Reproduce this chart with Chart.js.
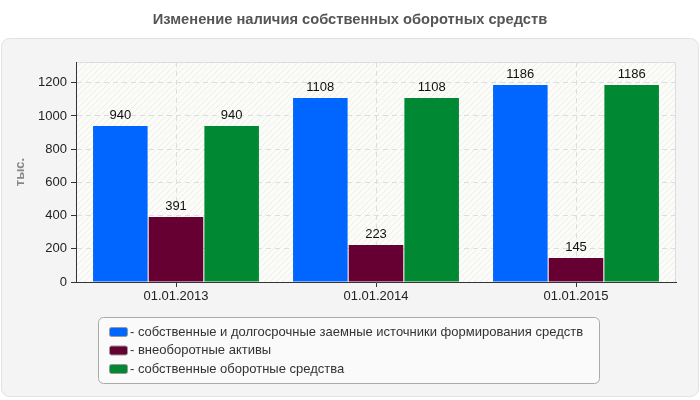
<!DOCTYPE html>
<html><head><meta charset="utf-8">
<script src="https://cdn.jsdelivr.net/npm/chart.js@4/dist/chart.umd.min.js"></script>
<style>html,body{margin:0;padding:0;background:#fff}#wrap{width:700px;height:400px}</style>
</head><body><div id="wrap"><canvas id="c" width="700" height="400"></canvas></div>
<script>
const chartTitle = "Изменение наличия собственных оборотных средств";
const yTitle = "тыс.";
const categories = ["01.01.2013", "01.01.2014", "01.01.2015"];
const seriesNames = [
  "собственные и долгосрочные заемные источники формирования средств",
  "внеоборотные активы",
  "собственные оборотные средства"
];
const sourcesValues = [940, 1108, 1186];
const fixedAssetsValues = [391, 223, 145];
const workingCapitalValues = [940, 1108, 1186];
const yTicks = [0, 200, 400, 600, 800, 1000, 1200];
const colors = ["#0066ff", "#660033", "#008833"];

const FONT = "'Liberation Sans', Arial, sans-serif";

function makePattern(ctx) {
  const p = document.createElement('canvas');
  p.width = 6; p.height = 6;
  const g = p.getContext('2d');
  g.fillStyle = '#fbfbf8';
  g.fillRect(0, 0, 6, 6);
  g.strokeStyle = '#ededeb';
  g.lineWidth = 1;
  g.beginPath();
  g.moveTo(0, 6); g.lineTo(6, 0);
  g.moveTo(-3, 3); g.lineTo(3, -3);
  g.moveTo(3, 9); g.lineTo(9, 3);
  g.stroke();
  return ctx.createPattern(p, 'repeat');
}

function roundRect(ctx, x, y, w, h, r) {
  ctx.beginPath();
  ctx.moveTo(x + r, y);
  ctx.lineTo(x + w - r, y);
  ctx.arcTo(x + w, y, x + w, y + r, r);
  ctx.lineTo(x + w, y + h - r);
  ctx.arcTo(x + w, y + h, x + w - r, y + h, r);
  ctx.lineTo(x + r, y + h);
  ctx.arcTo(x, y + h, x, y + h - r, r);
  ctx.lineTo(x, y + r);
  ctx.arcTo(x, y, x + r, y, r);
  ctx.closePath();
}

const decor = {
  id: 'decor',
  beforeDraw(chart) {
    const ctx = chart.ctx, a = chart.chartArea;
    ctx.save();
    ctx.fillStyle = '#ffffff';
    ctx.fillRect(0, 0, 700, 400);
    roundRect(ctx, 1.5, 38.5, 697, 358, 8);
    ctx.fillStyle = '#f4f4f4';
    ctx.fill();
    ctx.strokeStyle = '#e2e2e2';
    ctx.lineWidth = 1;
    ctx.stroke();
    ctx.fillStyle = makePattern(ctx);
    ctx.fillRect(a.left, a.top, a.right - a.left, a.bottom - a.top);
    ctx.strokeStyle = '#dddddd';
    ctx.beginPath();
    ctx.moveTo(a.left, a.top + 0.5); ctx.lineTo(a.right - 0.5, a.top + 0.5); ctx.lineTo(a.right - 0.5, a.bottom);
    ctx.stroke();
    // title
    ctx.fillStyle = '#555555';
    ctx.font = "bold 14.7px " + FONT;
    ctx.textAlign = 'center';
    ctx.textBaseline = 'middle';
    ctx.fillText(chartTitle, 350, 20);
    // y title
    ctx.save();
    ctx.translate(20, 172);
    ctx.rotate(-Math.PI / 2);
    ctx.fillStyle = '#888888';
    ctx.font = "bold 13px " + FONT;
    ctx.fillText(yTitle, 0, 0);
    ctx.restore();
    ctx.restore();
  },
  afterDatasetsDraw(chart) {
    const ctx = chart.ctx;
    ctx.save();
    ctx.font = "13px " + FONT;
    ctx.fillStyle = '#111111';
    ctx.textAlign = 'center';
    ctx.textBaseline = 'middle';
    chart.data.datasets.forEach((ds, i) => {
      chart.getDatasetMeta(i).data.forEach((bar, j) => {
        ctx.fillText(String(ds.data[j]), bar.x, bar.y - 10.5);
      });
    });
    ctx.restore();
  },
  afterDraw(chart) {
    const ctx = chart.ctx;
    ctx.save();
    roundRect(ctx, 98.5, 317.5, 501, 66, 5);
    ctx.fillStyle = '#fafafa';
    ctx.fill();
    ctx.strokeStyle = '#aaaaaa';
    ctx.lineWidth = 1;
    ctx.stroke();
    ctx.font = "13px " + FONT;
    ctx.textAlign = 'left';
    ctx.textBaseline = 'middle';
    chart.data.datasets.forEach((ds, i) => {
      const y = 332 + i * 18.5;
      roundRect(ctx, 109.5, y - 4.5, 18, 9, 2);
      ctx.fillStyle = ds.backgroundColor;
      ctx.fill();
      ctx.strokeStyle = '#999999';
      ctx.stroke();
      ctx.fillStyle = '#333333';
      ctx.fillText('- ' + ds.label, 130, y);
    });
    ctx.restore();
  }
};

new Chart(document.getElementById('c'), {
  type: 'bar',
  data: {
    labels: categories,
    datasets: [
      { label: seriesNames[0], data: sourcesValues, backgroundColor: colors[0] },
      { label: seriesNames[1], data: fixedAssetsValues, backgroundColor: colors[1] },
      { label: seriesNames[2], data: workingCapitalValues, backgroundColor: colors[2] }
    ]
  },
  options: {
    responsive: false,
    animation: false,
    devicePixelRatio: 1,
    layout: { padding: { left: 0, top: 62, right: 24, bottom: 0 } },
    datasets: { bar: { categoryPercentage: 0.835, barPercentage: 0.98 } },
    plugins: { legend: { display: false }, title: { display: false }, tooltip: { enabled: false } },
    scales: {
      x: {
        afterFit(s) { s.height = 118; },
        grid: { offset: false, color: '#dddddd', tickColor: '#333333', tickLength: 5, tickBorderDash: [] },
        border: { color: '#333333', width: 1, dash: [5, 4] },
        ticks: { color: '#222222', font: { family: FONT, size: 13 }, padding: 2 }
      },
      y: {
        min: 0, max: 1325,
        afterFit(s) { s.width = 76; },
        afterBuildTicks(s) { s.ticks = yTicks.map(v => ({ value: v })); },
        grid: { color: '#dddddd', tickColor: '#333333', tickLength: 5, tickBorderDash: [] },
        border: { color: '#333333', width: 1, dash: [5, 4] },
        ticks: { color: '#222222', font: { family: FONT, size: 13 }, padding: 4, callback: v => String(v) }
      }
    }
  },
  plugins: [decor]
});
</script></body></html>
